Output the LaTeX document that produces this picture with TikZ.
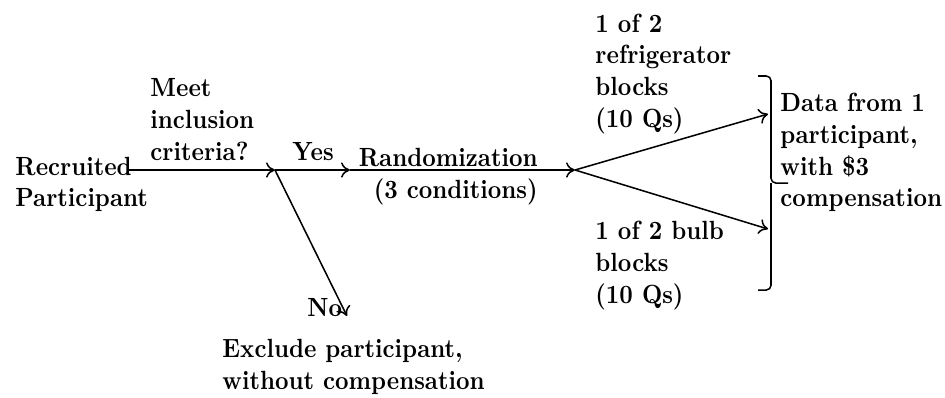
\documentclass[tikz,border=0pt]{standalone}
\usepackage{graphicx}
\usetikzlibrary{arrows.meta}
% a left- or right-aligned block of lines, slightly stretched upward from the
% baseline of its last line
\newcommand\tallblock[2][l]{\scalebox{1}[1.12]{\begin{tabular}[b]{@{}#1@{}}#2\end{tabular}}}
\begin{document}
\begin{tikzpicture}[x=0.4255pt,y=-0.4255pt,
  lbl/.style={font=\fontsize{10}{12}\selectfont\bfseries, inner sep=0pt},
  flow/.style={-{To[length=3.8pt,width=6.5pt]}, line width=0.65pt},
  brace/.style={line width=0.65pt, rounded corners=2pt},
]
\useasboundingbox (0,0) rectangle (945,397);

% labels (anchored at the baseline of their last line)
\node[lbl, anchor=base west] (recruit) at (15,206.7) {\tallblock{Recruited\\Participant}};
\node[lbl, anchor=base west] (criteria) at (150,160) {\tallblock{Meet\\inclusion\\criteria?}};
\node[lbl, anchor=base west] (yes) at (292,160) {\tallblock{Yes}};
\node[lbl, anchor=base east] (random) at (538,198) {\tallblock[r]{Randomization\\(3 conditions)}};
\node[lbl, anchor=base west] (no) at (307,316) {\tallblock{No}};
\node[lbl, anchor=base west] (exclude) at (222,389) {\tallblock{Exclude participant,\\without compensation}};
\node[lbl, anchor=base west] (fridge) at (595,127) {\tallblock{1 of 2\\refrigerator\\blocks\\(10 Qs)}};
\node[lbl, anchor=base west] (bulb) at (595,303) {\tallblock{1 of 2 bulb\\blocks\\(10 Qs)}};
\node[lbl, anchor=base west] (data) at (780,206.7) {\tallblock{Data from 1\\participant,\\with \$3\\compensation}};

% junction points of the flow
\coordinate (start) at (128,170);
\coordinate (incl) at (275,170);
\coordinate (rand) at (350,170);
\coordinate (fork) at (575,170);
\coordinate (topend) at (768,114);
\coordinate (botend) at (768,229);
\coordinate (noend) at (347,316);

\draw[flow] (start) -- (incl);
\draw[flow] (incl) -- (rand);
\draw[flow] (rand) -- (fork);
\draw[flow] (fork) -- (topend);
\draw[flow] (fork) -- (botend);
\draw[flow] (incl) -- (noend);

% closing brace
\coordinate (btop) at (758,76);
\coordinate (bbot) at (758,290);
\coordinate (btip) at (788,183);
\draw[brace] (btop) -| (771,183) -- (btip);
\draw[brace] (bbot) -| (771,183);
\end{tikzpicture}
\end{document}
